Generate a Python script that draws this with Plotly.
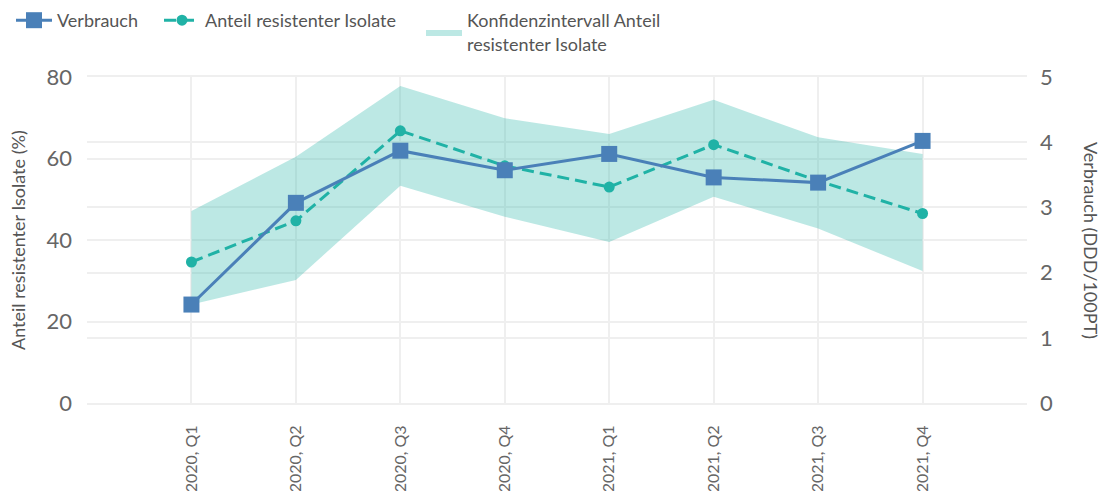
import plotly.graph_objects as go

categories = ["2020, Q1", "2020, Q2", "2020, Q3", "2020, Q4",
              "2021, Q1", "2021, Q2", "2021, Q3", "2021, Q4"]
verbrauch = [1.51, 3.07, 3.87, 3.57, 3.82, 3.46, 3.38, 4.02]
anteil = [34.6, 44.7, 66.8, 58.2, 53.0, 63.4, 54.5, 46.5]
ci_upper = [47.1, 60.4, 77.8, 69.9, 66.0, 74.4, 65.2, 61.1]
ci_lower = [24.2, 30.2, 53.3, 45.7, 39.5, 50.6, 42.8, 32.4]

FONT = "Segoe UI, Lato, Open Sans, sans-serif"
BLUE = "#4a80b8"
TEAL = "#20b2a6"
GRID = "#efefef"
TICK = "#666666"
TITLE = "#555555"
W, H = 1110, 491

fig = go.Figure()

fig.add_trace(go.Scatter(
    x=categories + categories[::-1],
    y=ci_upper + ci_lower[::-1],
    fill="toself", fillcolor="rgba(32,178,166,0.30)",
    line=dict(width=0), mode="lines",
    name="Konfidenzintervall Anteil<br>resistenter Isolate",
    hoverinfo="skip", legend="legend3",
))

fig.add_trace(go.Scatter(
    x=categories, y=anteil, mode="lines+markers",
    name="Anteil resistenter Isolate",
    line=dict(color=TEAL, width=3, dash="12px,6px"),
    marker=dict(symbol="circle", size=11, color=TEAL),
    legend="legend2",
))

fig.add_trace(go.Scatter(
    x=categories, y=verbrauch, mode="lines+markers",
    name="Verbrauch", yaxis="y2",
    line=dict(color=BLUE, width=3),
    marker=dict(symbol="square", size=16, color=BLUE),
    legend="legend",
))


def leg(xpx):
    return dict(orientation="h", xref="container", x=xpx / W, xanchor="left",
                yref="container", y=1 - 2 / H, yanchor="top", itemwidth=36,
                font=dict(size=18, color=TITLE), bgcolor="rgba(0,0,0,0)")


fig.update_layout(
    width=W, height=H,
    margin=dict(l=87, r=83, t=77, b=88, autoexpand=False),
    paper_bgcolor="white", plot_bgcolor="white",
    font=dict(family=FONT, color=TICK),
    showlegend=True,
    legend=leg(11), legend2=leg(159), legend3=leg(421),
    xaxis=dict(type="category", range=[-1, 8], tickangle=-90,
               showgrid=True, gridcolor=GRID, gridwidth=2,
               showline=True, linecolor=GRID, linewidth=2, mirror=True,
               tickfont=dict(size=16, color=TICK), ticks="",
               ticklabelstandoff=14, zeroline=False, automargin=False),
    yaxis=dict(range=[0, 80], dtick=20, showgrid=True, gridcolor=GRID, gridwidth=2,
               zeroline=False, tickfont=dict(size=22, color=TICK),
               ticklabelstandoff=14, automargin=False),
    yaxis2=dict(range=[0, 5], dtick=1, overlaying="y", side="right",
                showgrid=True, gridcolor=GRID, gridwidth=2, zeroline=False,
                tickfont=dict(size=22, color=TICK), ticklabelstandoff=12,
                automargin=False),
    annotations=[
        dict(text="Anteil resistenter Isolate (%)", textangle=-90,
             xref="paper", yref="paper", x=(18 - 87) / 940, y=0.5,
             xanchor="center", yanchor="middle", showarrow=False,
             font=dict(size=18, color=TITLE)),
        dict(text="Verbrauch (DDD/100PT)", textangle=90,
             xref="paper", yref="paper", x=1.0 + (1091 - 1027) / 940,
             y=0.5, xanchor="center", yanchor="middle", showarrow=False,
             font=dict(size=18, color=TITLE)),
    ],
)

fig.write_html("out.html", config={"displayModeBar": False},
               post_script="document.body.style.margin='0';"
                           "document.body.style.overflow='hidden';")
